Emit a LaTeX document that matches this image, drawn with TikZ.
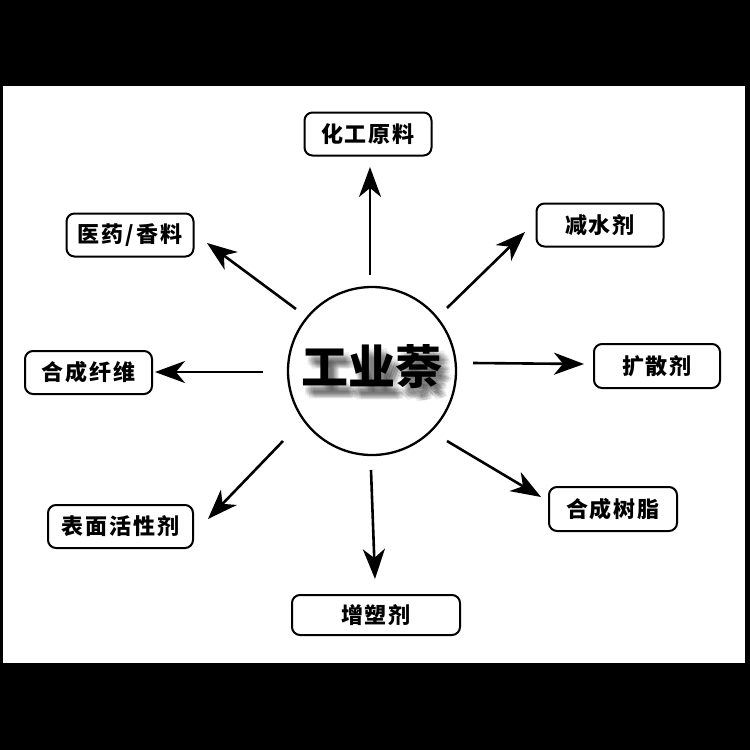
\documentclass[tikz,border=0pt]{standalone}
\usepackage{fontspec}
\newfontfamily\cjk{Noto Sans CJK SC}
\newfontfamily\cjkbox[LetterSpace=9]{Noto Sans CJK SC}
\usetikzlibrary{arrows.meta}
\tikzset{
  box/.style={draw=black, line width=2pt, rounded corners=8pt, fill=white,
    inner sep=0pt, minimum height=43pt,
    font=\cjkbox\bfseries\fontsize{22}{24}\selectfont},
  arr/.style={line width=2.6pt, -{Stealth[length=30pt,width=22pt,inset=9pt]}},
  bigtext/.style={font=\cjk\bfseries\fontsize{47}{50}\selectfont},
}
\begin{document}
\begin{tikzpicture}[x=1pt,y=-1pt]
\fill[black] (0,0) rectangle (750,750);
\fill[white] (3,86) rectangle (745,663);
\useasboundingbox (0,0) rectangle (750,750);
% centre
\node[circle, draw, line width=2.3pt, minimum size=168pt, inner sep=0pt] (c) at (372,371) {};
\foreach \dx/\dy in {3/6,5/8,7/10,9/12,4/11,8/7,6/13,10/9,2/9,11/12,6/4}
  \node[bigtext, text=black, text opacity=0.08] at (372+\dx,367+\dy) {工业萘};
\node[bigtext] (t) at (372,367) {工业萘};
% boxes
\node[box, minimum width=127pt] (hg) at (368,134) {化工原料};
\node[box, minimum width=127pt] (jss) at (600,225) {减水剂};
\node[box, minimum width=127pt] (yy) at (130,235) {医药/香料};
\node[box, minimum width=127pt] (hxw) at (88.5,372.5) {合成纤维};
\node[box, minimum width=126pt, minimum height=44pt] (ksj) at (657,366) {扩散剂};
\node[box, minimum width=145pt] (bm) at (120.5,526.5) {表面活性剂};
\node[box, minimum width=128pt, minimum height=44pt] (hs) at (613,509) {合成树脂};
\node[box, minimum width=168pt, minimum height=40pt] (zs) at (376,615) {增塑剂};
% arrow endpoints
\coordinate (s1) at (370,275); \coordinate (e1) at (370,167);
\coordinate (s2) at (447,308); \coordinate (e2) at (525,232);
\coordinate (s3) at (473,363); \coordinate (e3) at (584,364);
\coordinate (s4) at (447,441); \coordinate (e4) at (541,497);
\coordinate (s5) at (371,470); \coordinate (e5) at (375,579);
\coordinate (s6) at (283,441); \coordinate (e6) at (208,519);
\coordinate (s7) at (263,372); \coordinate (e7) at (155,372);
\coordinate (s8) at (296,309); \coordinate (e8) at (207,243);
\foreach \i in {1,...,8} \draw[arr] (s\i) -- (e\i);
\end{tikzpicture}
\end{document}
